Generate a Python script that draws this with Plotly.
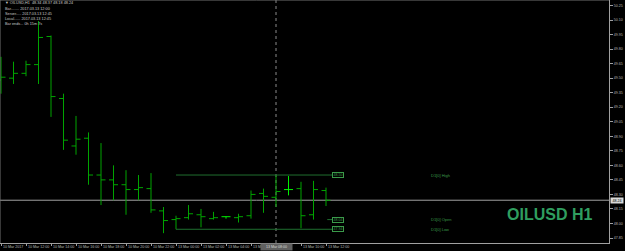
import plotly.graph_objects as go

# ---------------- data ----------------
bar_idx = list(range(27))
opens  = [49.48, 49.50, 49.55, 49.64, 49.93, 49.29, 48.80, 48.88, 48.50, 48.45, 48.40, 48.35,
          48.36, 48.13, 48.04, 48.06, 48.09, 48.05, 48.07, 48.06, 48.08, 48.31, 48.27, 48.35,
          48.36, 48.09, 48.34]
highs  = [49.72, 49.67, 49.68, 50.09, 49.94, 49.34, 49.11, 48.94, 48.83, 48.60, 48.55, 48.50,
          48.52, 48.17, 48.08, 48.19, 48.15, 48.12, 48.07, 48.10, 48.34, 48.36, 48.50, 48.49,
          48.43, 48.44, 48.37]
lows   = [49.34, 49.44, 49.52, 49.44, 49.10, 48.76, 48.71, 48.40, 48.19, 48.24, 48.09, 48.24,
          48.11, 47.90, 47.94, 48.04, 47.96, 48.04, 48.05, 48.01, 48.05, 48.11, 48.17, 48.29,
          47.95, 48.04, 48.18]
closes = [49.51, 49.55, 49.64, 49.92, 49.31, 48.86, 48.87, 48.50, 48.45, 48.40, 48.35, 48.37,
          48.14, 48.03, 48.05, 48.10, 48.07, 48.06, 48.07, 48.07, 48.30, 48.28, 48.33, 48.35,
          48.08, 48.35, 48.24]

tick_bars   = [0, 2, 4, 6, 8, 10, 12, 14, 16, 18, 20, 22, 24, 26]
tick_labels = ["10 Mar 2017", "10 Mar 12:00", "10 Mar 14:00", "10 Mar 16:00", "10 Mar 18:00",
               "10 Mar 20:00", "10 Mar 22:00", "13 Mar 00:00", "13 Mar 02:00", "13 Mar 04:00",
               "13 Mar 06:00", "13 Mar 08:00", "13 Mar 10:00", "13 Mar 12:00"]

price_ticks = [47.85, 48.00, 48.15, 48.30, 48.45, 48.60, 48.75, 48.90, 49.05, 49.20,
               49.35, 49.50, 49.65, 49.80, 49.95, 50.10, 50.25]

d1_names  = ["D1[0] High", "D1[0] Open", "D1[0] Low"]
d1_levels = [48.50, 48.04, 47.94]

marker_bar = 22          # vertical dotted line / highlighted time label
bid = closes[-1]

header_lines = [
    "\u25BC OILUSD,H1  48.34 48.37 48.18 48.24",
    "Bar........ 2017.03.13 12:00",
    "Server..... 2017.03.13 12:45",
    "Local...... 2017.03.13 12:45",
    "Bar ends... 0h 15m 7s",
]

# ---------------- styles ----------------
BAR_GREEN = "#00a400"
DOJI_GREEN = "#00f000"
GRID_GRAY = "#a0a0a0"
TXT_GRAY = "#b8b8b8"
D1_GREEN = "#1f6f2f"
D1_TXT = "#3a9a4a"
SMALL = "Liberation Sans, Arial, sans-serif"

W, H = 625, 251
PL, PR, PT, PB = 0, 16, 0, 8
plot_w = W - PL - PR
plot_h = H - PT - PB

# pixel geometry: bar i centre at 1 + 12.5*i px
x0_val = (0 - 1) / 12.5
x1_val = (plot_w - 1) / 12.5
# price geometry: 47.85 at 238 px from top, 96.87 px per unit
ppu = 96.87
y_top = 47.85 + 238 / ppu
y_bot = 47.85 - (plot_h - 238) / ppu

norm = [i for i in bar_idx if opens[i] != closes[i]]
doji = [i for i in bar_idx if opens[i] == closes[i]]

fig = go.Figure()
fig.add_trace(go.Ohlc(
    x=[bar_idx[i] for i in norm],
    open=[opens[i] for i in norm], high=[highs[i] for i in norm],
    low=[lows[i] for i in norm], close=[closes[i] for i in norm],
    increasing=dict(line=dict(color=BAR_GREEN, width=1)),
    decreasing=dict(line=dict(color=BAR_GREEN, width=1)),
    tickwidth=0.36, hoverinfo="skip", showlegend=False))
fig.add_trace(go.Ohlc(
    x=[bar_idx[i] for i in doji],
    open=[opens[i] for i in doji], high=[highs[i] for i in doji],
    low=[lows[i] for i in doji], close=[closes[i] for i in doji],
    increasing=dict(line=dict(color=DOJI_GREEN, width=1)),
    decreasing=dict(line=dict(color=DOJI_GREEN, width=1)),
    tickwidth=0.36, hoverinfo="skip", showlegend=False))

shapes = []
shapes.append(dict(type="line", xref="paper", x0=0, x1=1, yref="y", y0=bid, y1=bid,
                   line=dict(color=GRID_GRAY, width=1), layer="below"))
shapes.append(dict(type="line", xref="x", x0=marker_bar, x1=marker_bar, yref="paper", y0=0, y1=1,
                   line=dict(color="#8a8a8a", width=1, dash="dot"), layer="below"))
shapes.append(dict(type="line", xref="paper", x0=0, x1=0, yref="paper", y0=0, y1=1,
                   line=dict(color="#707070", width=1)))
shapes.append(dict(type="line", xref="paper", x0=0, x1=1, yref="paper", y0=1, y1=1,
                   line=dict(color="#707070", width=1)))

d1_start = [14, 26.1, 14]
d1_end = 26.5
for lvl, xs in zip(d1_levels, d1_start):
    shapes.append(dict(type="line", xref="x", x0=xs, x1=d1_end, yref="y", y0=lvl, y1=lvl,
                       line=dict(color=D1_GREEN, width=1)))

annotations = []
for lvl, name in zip(d1_levels, d1_names):
    annotations.append(dict(x=d1_end, y=lvl, xref="x", yref="y", xanchor="left", yanchor="middle",
                            text=f"{lvl:.2f}", showarrow=False, font=dict(size=3.6, color=D1_TXT, family=SMALL),
                            bordercolor=D1_TXT, borderwidth=1, borderpad=0, bgcolor="black",
                            width=10, height=4))
    annotations.append(dict(x=34.2, y=lvl, xref="x", yref="y", xanchor="left", yanchor="middle",
                            text=name, showarrow=False, font=dict(size=4, color=D1_TXT, family=SMALL)))

annotations.append(dict(x=549 / plot_w, y=1 - 214 / plot_h, xref="paper", yref="paper",
                        xanchor="center", yanchor="middle", text="<b>OILUSD H1</b>", showarrow=False,
                        font=dict(size=16, color="#2f9e5f",
                                  family="Liberation Sans Narrow, Arial Narrow, Liberation Sans, sans-serif")))

rows_y = [3.2, 9.5, 14.2, 18.9, 23.6]
for txt, ry in zip(header_lines, rows_y):
    annotations.append(dict(x=3 / plot_w, y=1 - ry / plot_h, xref="paper", yref="paper",
                            xanchor="left", yanchor="middle", text=txt, showarrow=False,
                            font=dict(size=3.8, color="#c8c8c8", family=SMALL)))

# x-axis time labels, left-aligned on their ticks
for b, t in zip(tick_bars, tick_labels):
    if b == marker_bar:
        continue
    annotations.append(dict(x=b, y=0, xref="x", yref="paper", xanchor="left", yanchor="middle",
                            xshift=0, yshift=-3.8, text=t, showarrow=False,
                            font=dict(size=3.6, color=TXT_GRAY, family=SMALL)))

annotations.append(dict(x=1, y=bid, xref="paper", yref="y", xanchor="left", yanchor="middle",
                        xshift=1, text=f"{bid:.2f}", showarrow=False,
                        font=dict(size=3.6, color="black", family=SMALL),
                        bgcolor="#d8d8d8", borderpad=0, width=12, height=5))

annotations.append(dict(x=marker_bar, y=0, xref="x", yref="paper", xanchor="center", yanchor="middle",
                        yshift=-3.8, text=tick_labels[tick_bars.index(marker_bar)], showarrow=False,
                        font=dict(size=3.6, color="#d8d8d8", family=SMALL),
                        bgcolor="#606060", borderpad=0, width=31, height=6))

fig.update_layout(
    width=W, height=H, margin=dict(l=PL, r=PR, t=PT, b=PB, pad=0),
    paper_bgcolor="black", plot_bgcolor="black", template="none",
    showlegend=False, shapes=shapes, annotations=annotations,
    xaxis=dict(range=[x0_val, x1_val], rangeslider=dict(visible=False), showgrid=False,
               zeroline=False, showline=True, linecolor=GRID_GRAY, linewidth=1,
               tickmode="array", tickvals=tick_bars, ticktext=[""] * len(tick_bars),
               ticks="outside", ticklen=2, tickcolor=GRID_GRAY, automargin=False),
    yaxis=dict(range=[y_bot, y_top], side="right", showgrid=False, zeroline=False,
               showline=True, linecolor=GRID_GRAY, linewidth=1,
               tickmode="array", tickvals=price_ticks, ticktext=[f"{v:.2f}" for v in price_ticks],
               ticks="outside", ticklen=3, tickcolor=GRID_GRAY,
               tickfont=dict(size=3.6, color=TXT_GRAY, family=SMALL), automargin=False),
)

fig.write_html("out.html")
